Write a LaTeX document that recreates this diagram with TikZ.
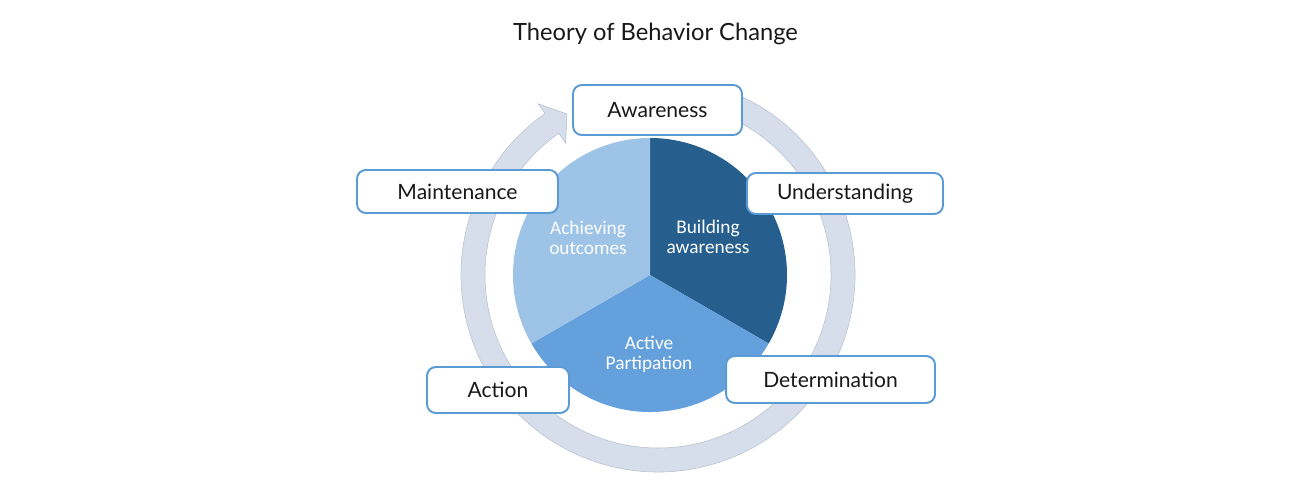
\documentclass[tikz,border=0pt]{standalone}
\usepackage{fontspec}
\setmainfont{Lato}
\newfontfamily\wedgefont{Carlito}
\usetikzlibrary{calc}
\definecolor{boxblue}{RGB}{91,155,213}
\definecolor{ringfill}{RGB}{215,222,235}
\definecolor{ringedge}{RGB}{185,192,204}
\definecolor{piedark}{RGB}{38,94,142}
\definecolor{piemid}{RGB}{99,160,220}
\definecolor{pielight}{RGB}{157,195,230}
\tikzset{
	stagebox/.style={draw=boxblue, line width=1.1pt, fill=white, rounded corners=5pt, inner sep=0pt, font=\fontsize{12}{14}\selectfont, text=black!90},
	wedgelabel/.style={align=center, text=white, font=\wedgefont\fontsize{11}{11.4}\selectfont}
}
\def\piewedge[#1](#2)(#3:#4:#5){\fill[#1] (#2) -- ($(#2)+(#3:#5)$) arc (#3:#4:#5) -- cycle;}

\begin{document}
\begin{tikzpicture}[x=0.02cm, y=0.02cm]
		%%%%% START %%%%%
		\useasboundingbox (0, 0) rectangle (1300, 500);
		
		\node[font=\fontsize{13.5}{15}\selectfont, text=black!90] (title) at (655.5, 466) {Theory of Behavior Change};
		
		% ring arrow
		\filldraw[fill=ringfill, draw=ringedge, line width=0.3pt, shift={(658, 225)}]
			(68:197) arc (68:-235:197) -- (-235:209) -- (-240.5:185) -- (-235:161) -- (-235:173) arc (-235:68:173) -- cycle;
		
		% pie
		\coordinate (hub) at (650, 225);
		\piewedge[piedark](hub)(90:-30:137);
		\piewedge[piemid](hub)(-30:-150:137);
		\piewedge[pielight](hub)(90:210:137);
		
		\node[wedgelabel] (building) at (708, 263) {Building\\awareness};
		\node[wedgelabel] (achieving) at (588, 262) {Achieving\\outcomes};
		\node[wedgelabel] (active) at (649, 146) {Active\\Partipation};
		
		% stages
		\node[stagebox, minimum width=3.38cm, minimum height=1.0cm] (awareness) at (657.5, 390) {Awareness};
		\node[stagebox, minimum width=3.92cm, minimum height=0.82cm] (understanding) at (845, 306.5) {Understanding};
		\node[stagebox, minimum width=4.02cm, minimum height=0.86cm] (maintenance) at (457.5, 308.5) {Maintenance};
		\node[stagebox, minimum width=4.18cm, minimum height=0.94cm] (determination) at (830.5, 120.5) {Determination};
		\node[stagebox, minimum width=2.84cm, minimum height=0.92cm] (action) at (498, 110) {Action};
		
		%%%%% END %%%%%
\end{tikzpicture}
\end{document}
